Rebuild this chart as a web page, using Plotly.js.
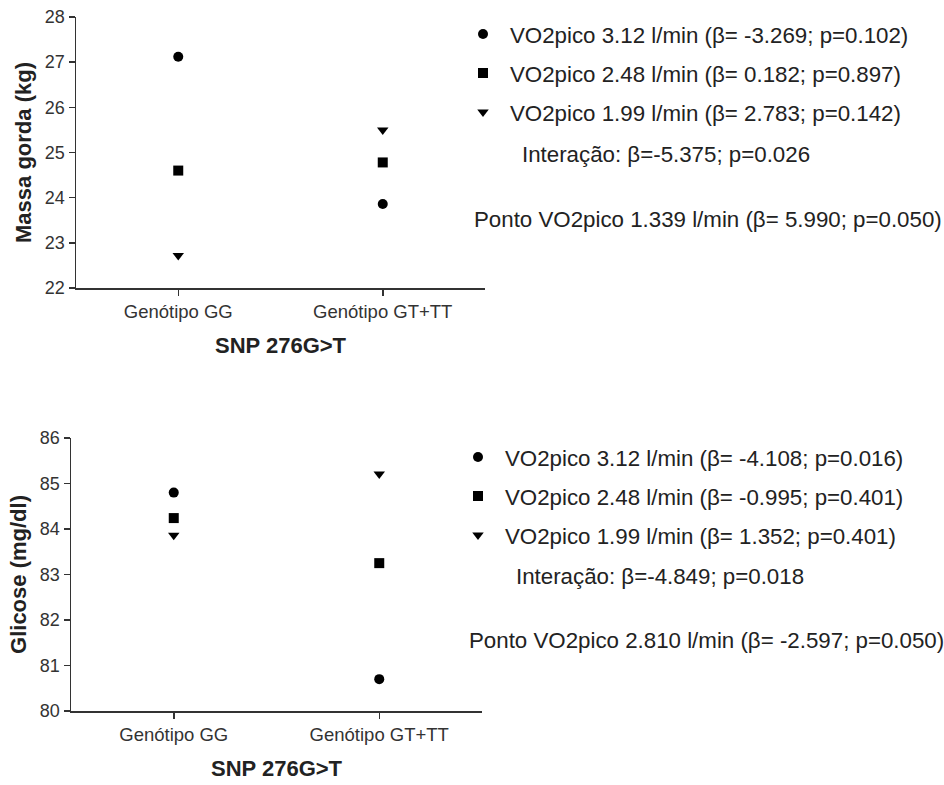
<!DOCTYPE html>
<html>
<head>
<meta charset="utf-8">
<script src="https://cdn.plot.ly/plotly-3.0.1.min.js"></script>
<style>
  html, body { margin: 0; padding: 0; background: #fff; }
  #chart { width: 944px; height: 785px; }
</style>
</head>
<body>
<div id="chart"></div>
<script>
// Genotype groups of SNP 276G>T
const categories = ['Genótipo GG', 'Genótipo GT+TT'];

// Fat mass (kg) predicted at three VO2peak levels
const massaV312 = [27.12, 23.86];
const massaV248 = [24.60, 24.78];
const massaV199 = [22.72, 25.50];

// Glucose (mg/dl) predicted at three VO2peak levels
const glicoseV312 = [84.80, 80.70];
const glicoseV248 = [84.24, 83.25];
const glicoseV199 = [83.86, 85.21];

// Legend labels
const massaLabels = [
  'VO2pico 3.12 l/min (β= -3.269; p=0.102)',
  'VO2pico 2.48 l/min (β= 0.182; p=0.897)',
  'VO2pico 1.99 l/min (β= 2.783; p=0.142)'
];
const glicoseLabels = [
  'VO2pico 3.12 l/min (β= -4.108; p=0.016)',
  'VO2pico 2.48 l/min (β= -0.995; p=0.401)',
  'VO2pico 1.99 l/min (β= 1.352; p=0.401)'
];
const massaNotes = ['Interação: β=-5.375; p=0.026', 'Ponto VO2pico 1.339 l/min (β= 5.990; p=0.050)'];
const glicoseNotes = ['Interação: β=-4.849; p=0.018', 'Ponto VO2pico 2.810 l/min (β= -2.597; p=0.050)'];

const symbols = ['circle', 'square', 'triangle-down'];
const W = 944, H = 785;
const px = x => x / W;
const py = y => 1 - y / H;
const FONT = 'Liberation Sans, Arial, sans-serif';
const TXT = '#222';
const NOTE_SIZE = 22.3;

function series(values, labels, xa, ya, legend) {
  return values.map((v, i) => ({
    type: 'scatter',
    mode: 'markers',
    x: categories,
    y: v,
    name: labels[i],
    xaxis: xa,
    yaxis: ya,
    legend: legend,
    legendgroup: legend + i,
    marker: { symbol: symbols[i], size: 10, color: '#000' },
    hoverinfo: 'x+y'
  }));
}

const traces = [].concat(
  series([massaV312, massaV248, massaV199], massaLabels, 'x', 'y', 'legend'),
  series([glicoseV312, glicoseV248, glicoseV199], glicoseLabels, 'x2', 'y2', 'legend2')
);

function xAxis(domain, anchor) {
  return {
    domain: domain, anchor: anchor, type: 'category', range: [-0.5, 1.5],
    showline: true, linecolor: '#333', linewidth: 1.5,
    ticks: 'outside', ticklen: 6, tickwidth: 1.5, tickcolor: '#333',
    showgrid: false, zeroline: false,
    tickfont: { family: FONT, size: 18.5, color: '#333' },
    title: { text: 'SNP 276G>T', standoff: 17,
             font: { family: FONT, size: 22, color: TXT, weight: 'bold' } },
    fixedrange: true
  };
}
function yAxis(domain, anchor, range, title) {
  return {
    domain: domain, anchor: anchor, range: range, dtick: 1,
    showline: true, linecolor: '#333', linewidth: 1.5,
    ticks: 'outside', ticklen: 6, tickwidth: 1.5, tickcolor: '#333',
    showgrid: false, zeroline: false,
    tickfont: { family: FONT, size: 18, color: '#333' },
    title: { text: title, standoff: 7,
             font: { family: FONT, size: 22, color: TXT, weight: 'bold' } },
    fixedrange: true
  };
}
function legendBox(xPix, topPix) {
  return {
    x: px(xPix), xanchor: 'left', y: py(topPix), yanchor: 'top',
    font: { family: FONT, size: NOTE_SIZE, color: TXT },
    itemwidth: 44, tracegroupgap: 7, bgcolor: 'rgba(0,0,0,0)',
    itemclick: false, itemdoubleclick: false
  };
}
function note(text, xPix, yPix) {
  return {
    text: text, xref: 'paper', yref: 'paper', x: px(xPix), y: py(yPix),
    xanchor: 'left', yanchor: 'middle', showarrow: false,
    font: { family: FONT, size: NOTE_SIZE, color: TXT }
  };
}

const layout = {
  width: W, height: H,
  margin: { l: 0, r: 0, t: 0, b: 0 },
  paper_bgcolor: '#fff', plot_bgcolor: '#fff',
  showlegend: true,
  xaxis: xAxis([px(76), px(485)], 'y'),
  yaxis: yAxis([py(288), py(17)], 'x', [22, 28], 'Massa gorda (kg)'),
  xaxis2: xAxis([px(71), px(482)], 'y2'),
  yaxis2: yAxis([py(711), py(438)], 'x2', [80, 86], 'Glicose (mg/dl)'),
  legend: legendBox(456, 13),
  legend2: legendBox(451, 436),
  annotations: [
    note(massaNotes[0], 520, 155),
    note(massaNotes[1], 472, 220),
    note(glicoseNotes[0], 514, 576),
    note(glicoseNotes[1], 467, 640)
  ]
};

Plotly.newPlot('chart', traces, layout, { displayModeBar: false, staticPlot: true });
</script>
</body>
</html>
